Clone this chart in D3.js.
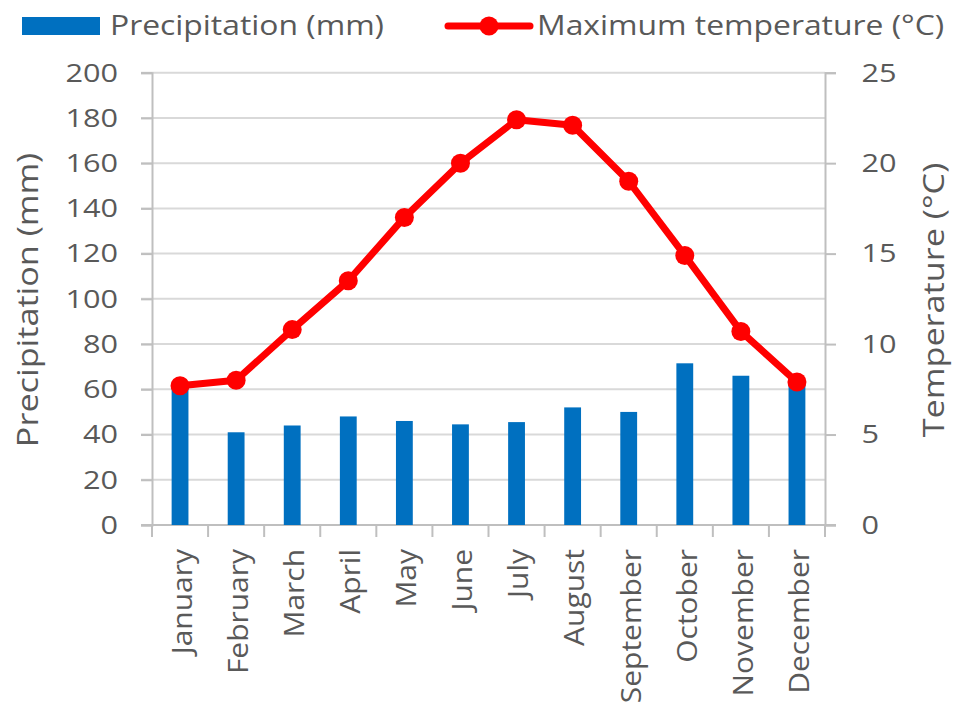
<!DOCTYPE html>
<html><head><meta charset="utf-8">
<script src="https://cdn.jsdelivr.net/npm/d3@7"></script>
<style>
html,body{margin:0;padding:0;background:#fff;}
svg text{font-family:"Open Sans",sans-serif;fill:#595959;}
</style></head>
<body><svg id="c" width="955" height="703"></svg>
<script>
const months = ["January","February","March","April","May","June","July","August","September","October","November","December"];
const precipitation = [61, 41, 44, 48, 46, 44.5, 45.5, 52, 50, 71.5, 66, 62];
const maxTemp = [7.7, 8.0, 10.8, 13.5, 17.0, 20.0, 22.4, 22.1, 19.0, 14.9, 10.7, 7.9];
const precipTicks = [0,20,40,60,80,100,120,140,160,180,200];
const tempTicks = [0,5,10,15,20,25];
const legendLabels = ["Precipitation (mm)", "Maximum temperature (°C)"];
const axisTitles = ["Precipitation (mm)", "Temperature (°C)"];

const SX = 1.18; // horizontal glyph stretch to match reference font proportions
const svg = d3.select("#c");
const L = 152, R = 825, T = 72.7, B = 525;
const x = d3.scaleBand().domain(months).range([L, R]).paddingInner(0.7).paddingOuter(0.35);
const xb = d3.scaleBand().domain(months).range([L, R]);
const yP = d3.scaleLinear().domain([0, 200]).range([B, T]);
const yT = d3.scaleLinear().domain([0, 25]).range([B, T]);

// gridlines
svg.append("g").selectAll("line").data(precipTicks.filter(d=>d>0)).join("line")
  .attr("x1", L - 11).attr("x2", R).attr("y1", d=>yP(d)).attr("y2", d=>yP(d))
  .attr("stroke", "#d9d9d9").attr("stroke-width", 2);

// left axis
const gl = svg.append("g").attr("transform", `translate(${L},0)`)
  .call(d3.axisLeft(yP).tickValues(precipTicks).tickSize(11));
gl.select(".domain").attr("stroke", "#bfbfbf").attr("stroke-width", 2);
gl.selectAll(".tick line").attr("stroke", "#bfbfbf").attr("stroke-width", 2);
gl.selectAll(".tick text").attr("font-size", 26).attr("font-family", "Open Sans").attr("fill", "#595959")
  .attr("x", -34 / SX).attr("transform", `scale(${SX},1)`);

// right axis
const gr = svg.append("g").attr("transform", `translate(${R},0)`)
  .call(d3.axisRight(yT).tickValues(tempTicks).tickSize(11));
gr.select(".domain").attr("stroke", "#bfbfbf").attr("stroke-width", 2);
gr.selectAll(".tick line").attr("stroke", "#bfbfbf").attr("stroke-width", 2);
gr.selectAll(".tick text").attr("font-size", 26).attr("font-family", "Open Sans").attr("fill", "#595959")
  .attr("x", 36.5 / SX).attr("transform", `scale(${SX},1)`);

// x axis baseline and category ticks
svg.append("line").attr("x1", L - 11).attr("x2", R + 11).attr("y1", B).attr("y2", B)
  .attr("stroke", "#bfbfbf").attr("stroke-width", 2);
const bounds = months.map(m => xb(m)).concat([R]);
svg.append("g").selectAll("line").data(bounds).join("line")
  .attr("x1", d=>d).attr("x2", d=>d).attr("y1", B).attr("y2", B + 12)
  .attr("stroke", "#bfbfbf").attr("stroke-width", 2);

// bars
svg.append("g").selectAll("rect").data(months).join("rect")
  .attr("x", d=>x(d)).attr("width", x.bandwidth())
  .attr("y", (d,i)=>yP(precipitation[i])).attr("height", (d,i)=>B - yP(precipitation[i]))
  .attr("fill", "#0070c0");

// line
const cx = d => xb(d) + xb.bandwidth()/2;
svg.append("path").datum(months)
  .attr("d", d3.line().x(d=>cx(d)).y((d,i)=>yT(maxTemp[i])))
  .attr("fill", "none").attr("stroke", "#ff0000").attr("stroke-width", 7).attr("stroke-linejoin", "round");
svg.append("g").selectAll("circle").data(months).join("circle")
  .attr("cx", d=>cx(d)).attr("cy", (d,i)=>yT(maxTemp[i])).attr("r", 9.5).attr("fill", "#ff0000");

// x labels
svg.append("g").selectAll("text").data(months).join("text")
  .attr("transform", d=>`translate(${cx(d)+2},549) rotate(-90) scale(1.07,1)`)
  .attr("text-anchor", "end").attr("dy", "0.35em").attr("font-size", 28).text(d=>d);

// axis titles
svg.append("text").attr("transform", `translate(28,300) rotate(-90) scale(${SX},1)`)
  .attr("text-anchor", "middle").attr("dy", "0.35em").attr("font-size", 29).text(axisTitles[0]);
svg.append("text").attr("transform", `translate(934,300) rotate(-90) scale(${SX},1)`)
  .attr("text-anchor", "middle").attr("dy", "0.35em").attr("font-size", 29).text(axisTitles[1]);

// legend
svg.append("rect").attr("x", 22).attr("y", 17).attr("width", 78).attr("height", 18).attr("fill", "#0070c0");
svg.append("text").attr("transform", `translate(110,26) scale(${SX},1)`).attr("dy", "0.35em").attr("font-size", 27).text(legendLabels[0]);
svg.append("line").attr("x1", 448).attr("x2", 530).attr("y1", 26).attr("y2", 26)
  .attr("stroke", "#ff0000").attr("stroke-width", 7).attr("stroke-linecap", "round");
svg.append("circle").attr("cx", 489).attr("cy", 26).attr("r", 9.5).attr("fill", "#ff0000");
svg.append("text").attr("transform", `translate(537,26) scale(${SX},1)`).attr("dy", "0.35em").attr("font-size", 27).text(legendLabels[1]);
</script></body></html>
